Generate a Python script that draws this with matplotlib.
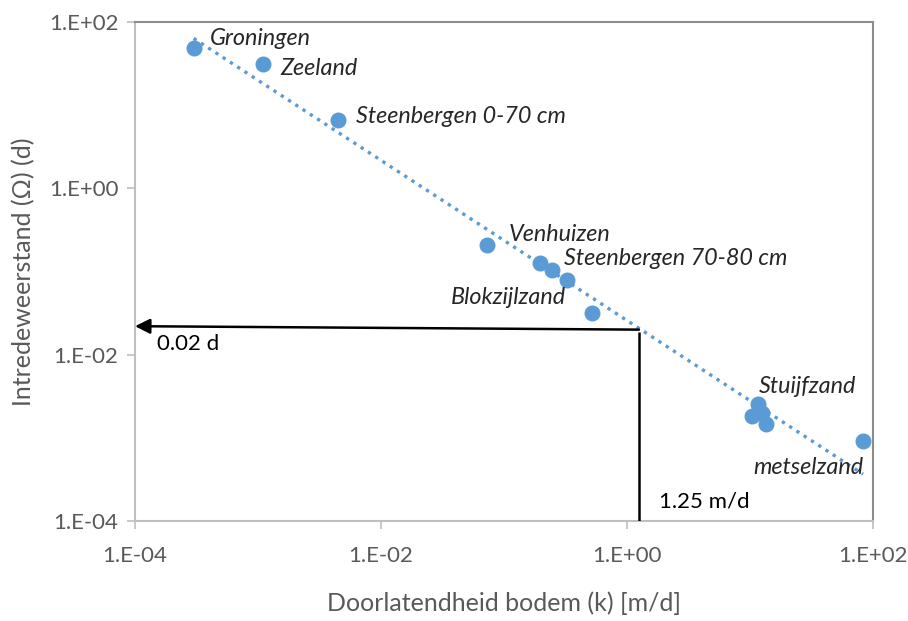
import numpy as np
import matplotlib
matplotlib.use("Agg")
import matplotlib.pyplot as plt
from matplotlib.ticker import FixedLocator, FixedFormatter, NullLocator

# ---- data ----
k_values = [3.0e-4, 1.1e-3, 4.5e-3, 0.073, 0.196, 0.245, 0.325, 0.52,
            11.6, 10.4, 12.5, 13.5, 83.0]
omega_values = [48.6, 31.2, 6.6, 0.21, 0.125, 0.103, 0.080, 0.032,
                0.00257, 0.00184, 0.0020, 0.00148, 0.00092]
label_texts = ["Groningen", "Zeeland", "Steenbergen 0-70 cm", "Venhuizen",
               "Steenbergen 70-80 cm", "Blokzijlzand", "Stuijfzand", "metselzand"]
label_point_index = [0, 1, 2, 3, 5, 7, 8, 12]
trend_range = [3.0e-4, 83.0]
read_k = 1.25
read_omega = 0.02
tick_values = [1e-4, 1e-2, 1e0, 1e2]
tick_labels = ["1.E-04", "1.E-02", "1.E+00", "1.E+02"]

# ---- style / layout ----
label_offsets = [(16, 10), (17, -4), (18, 4), (22, 10), (12, 12), (-26, 15), (1, 17), (0, -27)]
label_ha = ["left", "left", "left", "left", "left", "right", "left", "right"]

plt.rcParams['font.family'] = ['Lato', 'DejaVu Sans']
blue = '#5B9BD5'
grey_txt = '#595959'

fig = plt.figure(figsize=(9.08, 6.21), dpi=100)
ax = fig.add_axes([135/908, 1-521/621, (873-135)/908, (521-22)/621])
ax.set_xscale('log')
ax.set_yscale('log')
ax.set_xlim(1e-4, 1e2)
ax.set_ylim(1e-4, 1e2)

# trendline (power fit in log-log)
lx = np.log10(k_values)
ly = np.log10(omega_values)
slope, intercept = np.polyfit(lx, ly, 1)
tx = np.logspace(np.log10(trend_range[0]), np.log10(trend_range[1]), 200)
ty = 10 ** (intercept + slope * np.log10(tx))
ax.plot(tx, ty, linestyle=(0, (1, 1.6)), color=blue, lw=2.4, zorder=2)

ax.plot(k_values, omega_values, 'o', color=blue, ms=10.5, mec=blue, zorder=3)

for txt, idx, off, ha in zip(label_texts, label_point_index, label_offsets, label_ha):
    ax.annotate(txt, xy=(k_values[idx], omega_values[idx]), xytext=off,
                textcoords='offset pixels', ha=ha, va='center',
                fontsize=16.8, style='italic', color='#262626', zorder=4)

# reading lines
ax.annotate('', xy=(1e-4, read_omega * 1.1), xytext=(read_k, read_omega),
            arrowprops=dict(arrowstyle='-|>,head_length=0.9,head_width=0.45',
                            color='black', lw=1.8, shrinkA=0, shrinkB=0),
            zorder=5)
ax.plot([read_k, read_k], [read_omega * 0.93, 1e-4], color='black', lw=1.8,
        zorder=5, solid_capstyle='butt')
ax.annotate(f"{read_omega} d", xy=(1e-4, read_omega), xytext=(22, -14),
            textcoords='offset pixels', ha='left', va='center', fontsize=16, color='black')
ax.annotate(f"{read_k} m/d", xy=(read_k, 1e-4), xytext=(20, 20),
            textcoords='offset pixels', ha='left', va='center', fontsize=16, color='black')

# axes styling
ax.xaxis.set_major_locator(FixedLocator(tick_values))
ax.xaxis.set_major_formatter(FixedFormatter(tick_labels))
ax.yaxis.set_major_locator(FixedLocator(tick_values))
ax.yaxis.set_major_formatter(FixedFormatter(tick_labels))
ax.xaxis.set_minor_locator(NullLocator())
ax.yaxis.set_minor_locator(NullLocator())
ax.tick_params(axis='both', which='major', length=6, width=1.2, color='#BFBFBF',
               labelsize=16, labelcolor=grey_txt, direction='out')
ax.tick_params(axis='x', pad=12)
ax.tick_params(axis='y', pad=6)
for s in ['left', 'bottom']:
    ax.spines[s].set_color('#BFBFBF')
    ax.spines[s].set_linewidth(1.5)
for s in ['top', 'right']:
    ax.spines[s].set_color('#8C8C8C')
    ax.spines[s].set_linewidth(1.5)

ax.set_xlabel("Doorlatendheid bodem (k) [m/d]", fontsize=18, color=grey_txt, labelpad=18)
ax.set_ylabel("Intredeweerstand (Ω) (d)", fontsize=18, color=grey_txt, labelpad=10)

fig.savefig("out.png", dpi=100, facecolor='white')
